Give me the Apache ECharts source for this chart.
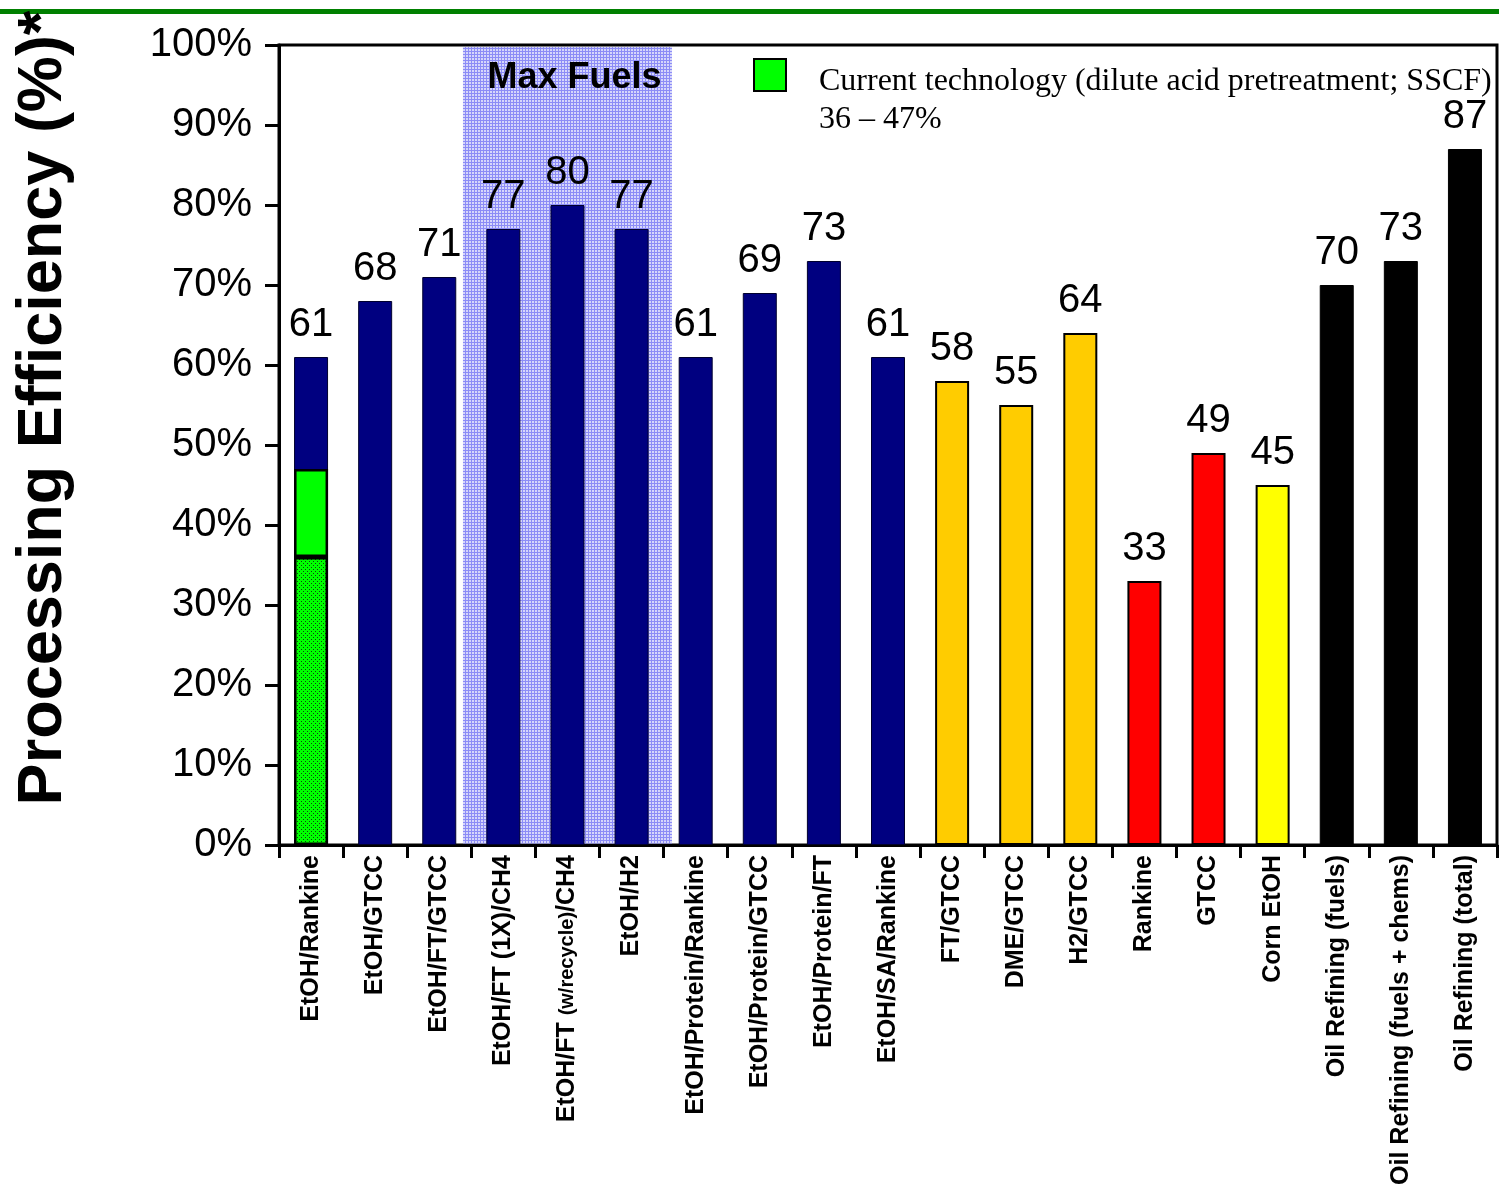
<!DOCTYPE html>
<html>
<head>
<meta charset="utf-8">
<script src="https://cdn.jsdelivr.net/npm/echarts@6/dist/echarts.min.js"></script>
<style>
  html, body { margin: 0; padding: 0; background: #ffffff; }
  #chart { width: 1499px; height: 1193px; }
</style>
</head>
<body>
<div id="chart"></div>
<script>
// Processing pathways shown along the x axis
const categories = [
  'EtOH/Rankine', 'EtOH/GTCC', 'EtOH/FT/GTCC', 'EtOH/FT (1X)/CH4',
  'EtOH/FT (w/recycle)/CH4', 'EtOH/H2', 'EtOH/Protein/Rankine',
  'EtOH/Protein/GTCC', 'EtOH/Protein/FT', 'EtOH/SA/Rankine',
  'FT/GTCC', 'DME/GTCC', 'H2/GTCC', 'Rankine', 'GTCC', 'Corn EtOH',
  'Oil Refining (fuels)', 'Oil Refining (fuels + chems)', 'Oil Refining (total)'
];

// Processing efficiency, percent
const efficiency = [61, 68, 71, 77, 80, 77, 61, 69, 73, 61, 58, 55, 64, 33, 49, 45, 70, 73, 87];

// Technology family of each pathway (drives bar colour)
const family = [
  'biorefinery', 'biorefinery', 'biorefinery', 'biorefinery', 'biorefinery',
  'biorefinery', 'biorefinery', 'biorefinery', 'biorefinery', 'biorefinery',
  'gasification', 'gasification', 'gasification', 'power', 'power',
  'corn', 'oil', 'oil', 'oil'
];

// Current technology band for the ethanol/Rankine case
const currentTechCategory = 'EtOH/Rankine';
const currentTechRange = [36, 47];

// Pathways grouped under "Max Fuels"
const maxFuelsCategories = ['EtOH/FT (1X)/CH4', 'EtOH/FT (w/recycle)/CH4', 'EtOH/H2'];

const familyStyle = {
  biorefinery:  { color: '#000080', borderColor: '#00002e', borderWidth: 1 },
  gasification: { color: '#FFCC00', borderColor: '#000000', borderWidth: 2 },
  power:        { color: '#FF0000', borderColor: '#000000', borderWidth: 2 },
  corn:         { color: '#FFFF00', borderColor: '#000000', borderWidth: 2 },
  oil:          { color: '#000000', borderColor: '#000000', borderWidth: 1 }
};

// Dotted green texture for the lower part of the current-technology bar
function dottedGreen() {
  const c = document.createElement('canvas');
  c.width = 4; c.height = 4;
  const g = c.getContext('2d');
  g.fillStyle = '#00FF00';
  g.fillRect(0, 0, 4, 4);
  g.fillStyle = '#0b4a0b';
  g.fillRect(1, 1, 1, 1);
  g.fillRect(3, 3, 1, 1);
  return c;
}

// Light blue grid texture behind the Max Fuels group
function blueGrid() {
  const c = document.createElement('canvas');
  c.width = 3; c.height = 3;
  const g = c.getContext('2d');
  g.fillStyle = '#d6d6fb';
  g.fillRect(0, 0, 3, 3);
  g.fillStyle = '#8c8cf6';
  g.fillRect(0, 0, 3, 1);
  g.fillRect(0, 1, 1, 2);
  return c;
}

const curIdx = categories.indexOf(currentTechCategory);
const curLow = categories.map((_, i) => (i === curIdx ? currentTechRange[0] : null));
const curSpan = categories.map((_, i) => (i === curIdx ? currentTechRange[1] - currentTechRange[0] : null));
const mfStart = categories.indexOf(maxFuelsCategories[0]);
const mfEnd = categories.indexOf(maxFuelsCategories[maxFuelsCategories.length - 1]);

const sans = '"Liberation Sans", Arial, Helvetica, sans-serif';
const serif = '"Liberation Serif", "Times New Roman", serif';

const chart = echarts.init(document.getElementById('chart'), null, { renderer: 'canvas' });

chart.setOption({
  animation: false,
  backgroundColor: '#ffffff',
  grid: {
    left: 279, right: 2, top: 45, bottom: 348,
    containLabel: false,
    outerBoundsMode: 'none',
    show: true, borderColor: '#000000', borderWidth: 3, backgroundColor: 'transparent'
  },
  xAxis: {
    type: 'category',
    data: categories,
    axisLine: { lineStyle: { color: '#000000', width: 3 } },
    axisTick: { show: true, length: 13, lineStyle: { color: '#000000', width: 3 } },
    axisLabel: {
      interval: 0,
      rotate: 90,
      margin: 10,
      color: '#000000',
      fontFamily: sans,
      fontWeight: 'bold',
      fontSize: 25,
      formatter: function (name) {
        const m = name.match(/^(.*)\((w\/recycle)\)(.*)$/);
        return m ? m[1] + '{s|(' + m[2] + ')}' + m[3] : name;
      },
      rich: {
        s: { fontFamily: sans, fontWeight: 'bold', fontSize: 20, color: '#000000' }
      }
    }
  },
  yAxis: {
    type: 'value',
    min: 0, max: 100, interval: 10,
    axisLine: { show: true, lineStyle: { color: '#000000', width: 3 } },
    axisTick: { show: true, length: 14, lineStyle: { color: '#000000', width: 3 } },
    splitLine: { show: false },
    axisLabel: {
      formatter: '{value}%',
      margin: 27,
      color: '#000000',
      fontFamily: sans,
      fontSize: 40
    }
  },
  series: [
    {
      name: 'Max Fuels',
      type: 'custom',
      z: 1,
      silent: true,
      data: [[mfStart, mfEnd]],
      encode: { x: [0, 1] },
      renderItem: function (params, api) {
        const band = api.size([1, 0])[0];
        const topLeft = api.coord([api.value(0), 100]);
        const bottomRight = api.coord([api.value(1), 0]);
        const pad = band * 0.13;
        const x = topLeft[0] - band / 2 - pad;
        const w = bottomRight[0] + band / 2 + pad - x;
        const y = topLeft[1] + 2;
        const h = bottomRight[1] - 1.5 - y;
        return {
          type: 'group',
          children: [
            {
              type: 'rect',
              shape: { x: x, y: y, width: w, height: h },
              style: { fill: { image: blueGrid(), repeat: 'repeat' } }
            },
            {
              type: 'text',
              z2: 20,
              style: {
                text: 'Max Fuels',
                x: x + w / 2 + 7,
                y: y + 31,
                align: 'center',
                verticalAlign: 'middle',
                font: 'bold 36px ' + sans,
                fill: '#000000'
              }
            }
          ]
        };
      }
    },
    {
      name: 'Processing efficiency',
      type: 'bar',
      barWidth: 34,
      barGap: '-100%',
      z: 2,
      data: efficiency.map((v, i) => ({ value: v, itemStyle: familyStyle[family[i]] })),
      label: {
        show: true,
        position: 'top',
        distance: 12,
        color: '#000000',
        fontFamily: sans,
        fontSize: 40
      }
    },
    {
      name: 'Current technology (low)',
      type: 'bar',
      stack: 'current',
      barWidth: 34,
      barGap: '-100%',
      z: 3,
      data: curLow,
      itemStyle: {
        color: { image: dottedGreen(), repeat: 'repeat' },
        borderColor: '#000000', borderWidth: 2.5
      }
    },
    {
      name: 'Current technology (range)',
      type: 'bar',
      stack: 'current',
      barWidth: 34,
      barGap: '-100%',
      z: 3,
      data: curSpan,
      itemStyle: { color: '#00FF00', borderColor: '#000000', borderWidth: 2.5 }
    }
  ],
  graphic: [
    {
      type: 'rect',
      left: 0, top: 9,
      shape: { width: 1499, height: 5 },
      style: { fill: '#008000' },
      silent: true
    },
    {
      type: 'text',
      x: 44, y: 408,
      rotation: Math.PI / 2,
      style: {
        text: 'Processing Efficiency (%)*',
        font: 'bold 63px ' + sans,
        fill: '#000000',
        align: 'center',
        verticalAlign: 'middle'
      },
      silent: true
    },
    {
      type: 'rect',
      x: 754, y: 59,
      shape: { width: 32, height: 32 },
      style: { fill: '#00FF00', stroke: '#000000', lineWidth: 2 },
      silent: true
    },
    {
      type: 'text',
      x: 819, y: 63,
      style: {
        text: 'Current technology (dilute acid pretreatment; SSCF)\n' +
              currentTechRange[0] + ' \u2013 ' + currentTechRange[1] + '%',
        font: '32px ' + serif,
        lineHeight: 38,
        fill: '#000000',
        align: 'left',
        verticalAlign: 'top'
      },
      silent: true
    }
  ]
});
</script>
</body>
</html>
